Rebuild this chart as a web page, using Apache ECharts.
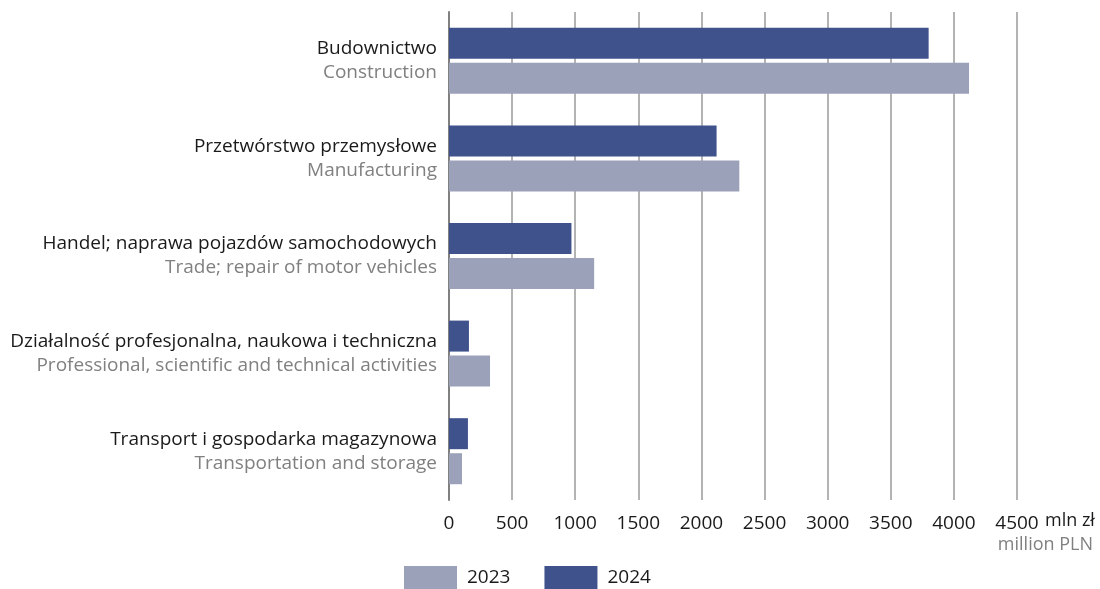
<!DOCTYPE html>
<html>
<head>
<meta charset="utf-8">
<script src="https://cdn.jsdelivr.net/npm/echarts@6/dist/echarts.min.js"></script>
<style>
  html, body { margin: 0; padding: 0; background: #fff; }
  #chart { width: 1100px; height: 589px; }
</style>
</head>
<body>
<div id="chart"></div>
<script>
// sekcje (PL / EN)
const categoriesPl = [
  "Budownictwo",
  "Przetwórstwo przemysłowe",
  "Handel; naprawa pojazdów samochodowych",
  "Działalność profesjonalna, naukowa i techniczna",
  "Transport i gospodarka magazynowa"
];
const categoriesEn = [
  "Construction",
  "Manufacturing",
  "Trade; repair of motor vehicles",
  "Professional, scientific and technical activities",
  "Transportation and storage"
];
const values2023 = [4120, 2300, 1150, 325, 103];
const values2024 = [3800, 2120, 970, 158, 150];
const xTicks = [0, 500, 1000, 1500, 2000, 2500, 3000, 3500, 4000, 4500];

const FONT = "Open Sans";
const FS = 19;
const chart = echarts.init(document.getElementById("chart"));

chart.setOption({
  animation: false,
  textStyle: { fontFamily: FONT },
  grid: { left: 449, right: 83, top: 12, bottom: 89, containLabel: false },
  legend: {
    data: ["2023", "2024"],
    left: 404,
    top: 566,
    padding: 0,
    itemWidth: 53,
    itemHeight: 23,
    itemGap: 34,
    icon: "rect",
    textStyle: { fontFamily: FONT, fontSize: FS, color: "#1a1a1a", padding: [0, 0, 0, 5] }
  },
  xAxis: {
    type: "value",
    min: xTicks[0],
    max: xTicks[xTicks.length - 1],
    interval: 500,
    axisLine: { show: false },
    axisTick: { show: false },
    splitLine: { lineStyle: { color: "#b3b3b3", width: 2 } },
    axisLabel: {
      fontFamily: FONT, fontSize: FS, color: "#1a1a1a", margin: 14,
      formatter: (v) => String(v)
    }
  },
  yAxis: {
    type: "category",
    inverse: true,
    data: categoriesPl.map((c, i) => c + "\n" + categoriesEn[i]),
    axisLine: { lineStyle: { color: "#808080", width: 2 } },
    axisTick: { show: false },
    axisLabel: {
      margin: 12,
      formatter: (v, i) => "{a|" + categoriesPl[i] + "}\n{b|" + categoriesEn[i] + "}",
      rich: {
        a: { fontFamily: FONT, fontSize: FS, color: "#1a1a1a", lineHeight: 24, align: "right" },
        b: { fontFamily: FONT, fontSize: FS, color: "#808080", lineHeight: 24, align: "right" }
      }
    }
  },
  series: [
    {
      name: "2024",
      type: "bar",
      data: values2024,
      itemStyle: { color: "#3f528c" },
      barWidth: 31,
      barGap: "13%",
      barCategoryGap: "32%"
    },
    {
      name: "2023",
      type: "bar",
      data: values2023,
      itemStyle: { color: "#9ca1ba" },
      barWidth: 31
    }
  ],
  graphic: [
    {
      type: "text",
      left: 1045,
      top: 512,
      style: { text: "mln zł", font: "18px " + FONT, fill: "#1a1a1a" }
    },
    {
      type: "text",
      right: 7,
      top: 536,
      style: { text: "million PLN", font: "18px " + FONT, fill: "#808080" }
    }
  ]
});
</script>
</body>
</html>
